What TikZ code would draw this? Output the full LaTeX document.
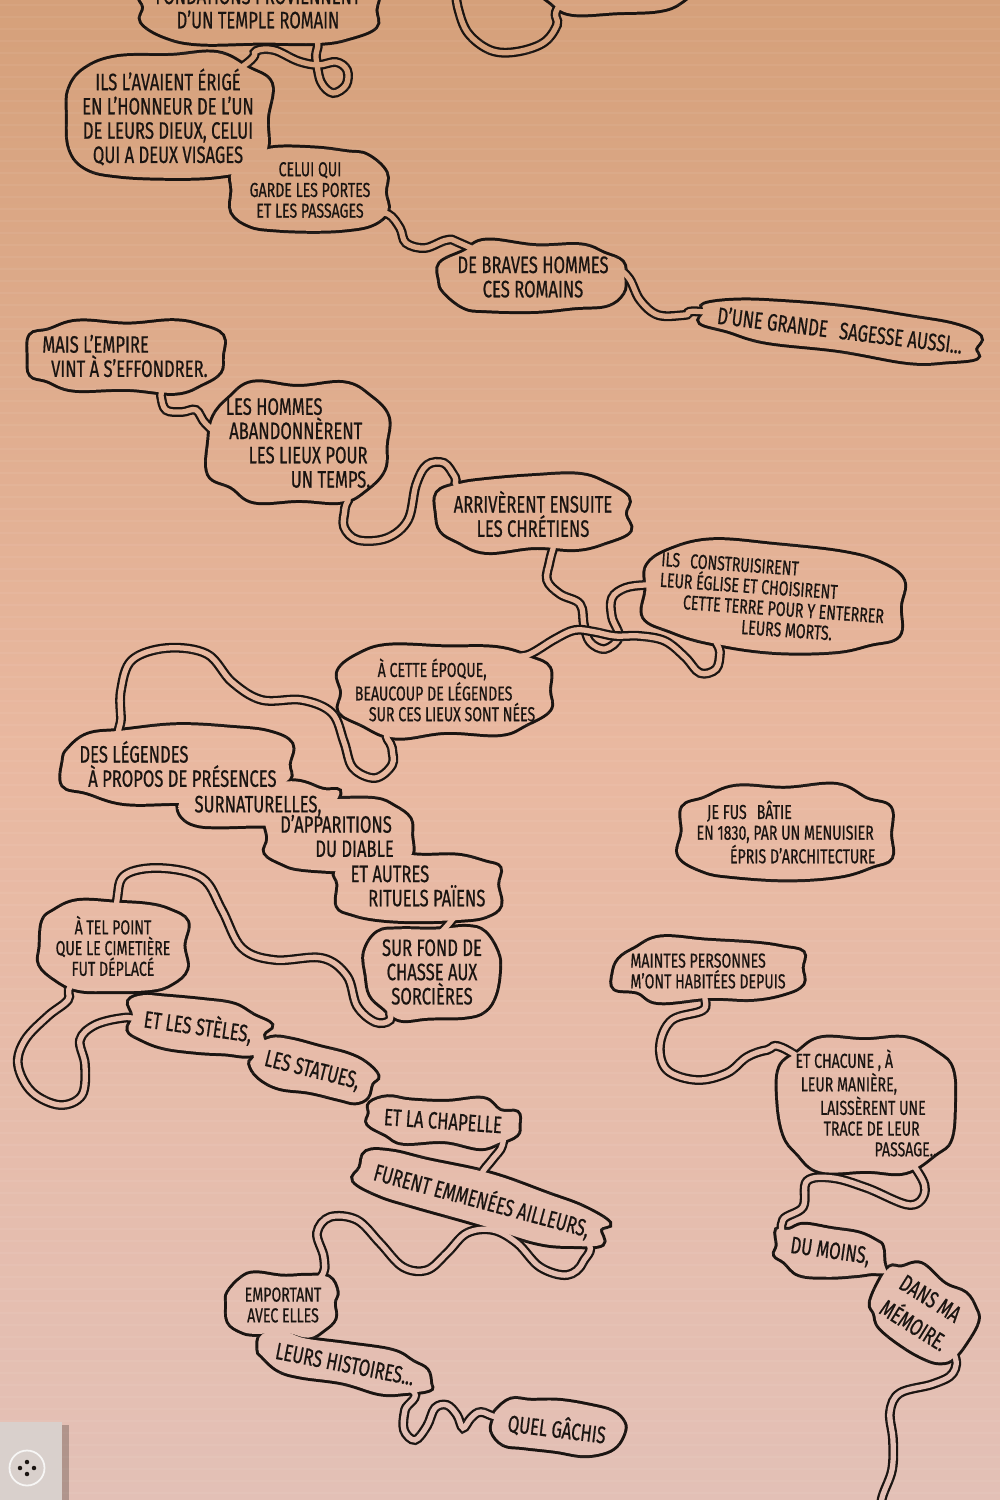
\documentclass[tikz,border=0pt]{standalone}
\usepackage{fontspec}
\setmainfont{Fira Sans}[FakeStretch=0.70, FakeBold=0.6]
\usepackage{tikz}
\usetikzlibrary{calc,backgrounds}
\definecolor{ink}   {HTML}{1A1411}
\definecolor{paperT}{HTML}{D5A07A}
\definecolor{paperM}{HTML}{E9B8A0}
\definecolor{paperB}{HTML}{E3C0B6}
\definecolor{plate} {HTML}{D9D0CC}
% closed lumpy outline round a text node (jitter from the seed)
\newcommand{\blobof}[1]{plot[smooth cycle, tension=.65] coordinates {
  ($(#1.west)+(2pt*rand,2pt*rand)$) ($(#1.west)!.5!(#1.north west)+(2pt*rand,2pt*rand)$)
  ($(#1.north west)!.2!(#1.center)+(2pt*rand,2pt*rand)$) ($(#1.north west)!.5!(#1.north)+(2pt*rand,2pt*rand)$)
  ($(#1.north)+(2pt*rand,2pt*rand)$) ($(#1.north)!.5!(#1.north east)+(2pt*rand,2pt*rand)$)
  ($(#1.north east)!.2!(#1.center)+(2pt*rand,2pt*rand)$) ($(#1.north east)!.5!(#1.east)+(2pt*rand,2pt*rand)$)
  ($(#1.east)+(2pt*rand,2pt*rand)$) ($(#1.east)!.5!(#1.south east)+(2pt*rand,2pt*rand)$)
  ($(#1.south east)!.2!(#1.center)+(2pt*rand,2pt*rand)$) ($(#1.south east)!.5!(#1.south)+(2pt*rand,2pt*rand)$)
  ($(#1.south)+(2pt*rand,2pt*rand)$) ($(#1.south)!.5!(#1.south west)+(2pt*rand,2pt*rand)$)
  ($(#1.south west)!.2!(#1.center)+(2pt*rand,2pt*rand)$) ($(#1.south west)!.5!(#1.west)+(2pt*rand,2pt*rand)$)}}
\tikzset{
  % --- text
  say/.style    = {align=center, text=ink, inner xsep=8pt, inner ysep=7pt,
                   font=\fontsize{13.5}{13.8}\selectfont},
  saysm/.style  = {say, font=\fontsize{11.5}{11.8}\selectfont},
  % --- bubbles
  paper/.style  = {top color=paperT, bottom color=paperB, middle color=paperM},
  rim/.style    = {draw=ink, line width=3.4pt},
  hole/.style   = {path picture={\shade[paper] (pg nw) rectangle (pg se);}},
  % --- ribbons
  rib/.style    = {draw=ink, line width=1.3pt, double=#1, double distance=3pt},
}
\begin{document}
\begin{tikzpicture}[x=0.2mm, y=-0.2mm]
  \coordinate (pg nw) at (0,0);
  \coordinate (pg se) at (1000,1500);
  \useasboundingbox (pg nw) rectangle (pg se);

  % texts
  \node[say] (n0) at (258,8) {FONDATIONS PROVIENNENT\\D'UN TEMPLE ROMAIN};
  \node[say, minimum width=34mm, minimum height=22mm] (ntop) at (615,-45) {};
  \node[say] (n1) at (168,117) {ILS L'AVAIENT ÉRIGÉ\\EN L'HONNEUR DE L'UN\\DE LEURS DIEUX, CELUI\\QUI A DEUX VISAGES};
  \node[saysm] (n2) at (310,190) {CELUI QUI\\GARDE LES PORTES\\ET LES PASSAGES};
  \node[say] (n3) at (533,277) {DE BRAVES HOMMES\\CES ROMAINS};
  \node[say, rotate=-7] (n4) at (840,330) {D'UNE GRANDE\enspace SAGESSE AUSSI...};
  \node[say, align=left] (n5) at (125,356) {MAIS L'EMPIRE\\\hspace*{5pt}VINT À S'EFFONDRER.};
  \node[say, align=left] (n6) at (298,443) {LES HOMMES\\\hspace*{2pt}ABANDONNÈRENT\\\hspace*{13pt}LES LIEUX POUR\\\hspace*{37pt}UN TEMPS.};
  \node[say] (n7) at (533,514) {ARRIVÈRENT ENSUITE\\LES CHRÉTIENS};
  \node[saysm, align=left, rotate=-4] (n9) at (772,598) {ILS\enspace CONSTRUISIRENT\\LEUR ÉGLISE ET CHOISIRENT\\\hspace*{14pt}CETTE TERRE POUR Y ENTERRER\\\hspace*{48pt}LEURS MORTS.};
  \node[saysm, align=left] (n8) at (445,690) {\hspace*{13pt}À CETTE ÉPOQUE,\\BEAUCOUP DE LÉGENDES\\\hspace*{8pt}SUR CES LIEUX SONT NÉES};
  \node[say, align=left] (n10a) at (178,764) {DES LÉGENDES\\\hspace*{5pt}À PROPOS DE PRÉSENCES};
  \node[say] (n10b) at (258,806) {SURNATURELLES,};
  \node[say, align=left] (n10c) at (337,836) {D'APPARITIONS\\\hspace*{20pt}DU DIABLE};
  \node[say, align=left] (n10d) at (418,886) {ET AUTRES\\\hspace*{10pt}RITUELS PAÏENS};
  \node[saysm] (n11) at (113,946) {À TEL POINT\\QUE LE CIMETIÈRE\\FUT DÉPLACÉ};
  \node[say] (n12) at (432,972) {SUR FOND DE\\CHASSE AUX\\SORCIÈRES};
  \node[say, rotate=-8] (n13a) at (198,1026) {ET LES STÈLES,};
  \node[say, rotate=-14] (n13b) at (312,1071) {LES STATUES,};
  \node[say, rotate=-4] (n13c) at (443,1121) {ET LA CHAPELLE};
  \node[say, rotate=-15] (n14) at (482,1200) {FURENT EMMENÉES AILLEURS,};
  \node[saysm] (n15) at (283,1305) {EMPORTANT\\AVEC ELLES};
  \node[say, rotate=-11] (n16) at (345,1364) {LEURS HISTOIRES...};
  \node[say, rotate=-7] (n17) at (557,1428) {QUEL GÂCHIS};
  \node[saysm, align=left] (n18) at (786,832) {\hspace*{6pt}JE FUS\enspace BÂTIE\\EN 1830, PAR UN MENUISIER\\\hspace*{19pt}ÉPRIS D'ARCHITECTURE};
  \node[saysm, align=left] (n19) at (708,971) {MAINTES PERSONNES\\M'ONT HABITÉES DEPUIS};
  \node[saysm, align=left] (n20) at (866,1103) {ET CHACUNE , À\\\hspace*{3pt}LEUR MANIÈRE,\\\hspace*{14pt}LAISSÈRENT UNE\\\hspace*{16pt}TRACE DE LEUR\\\hspace*{45pt}PASSAGE..};
  \node[say, rotate=-8] (n21a) at (830,1252) {DU MOINS,};
  \node[say, rotate=-32, font=\fontsize{13.5}{18}\selectfont] (n21b) at (922,1312) {DANS MA\\MÉMOIRE.};
  \coordinate (topend) at (455,-15);
  \coordinate (botend) at (880,1520);

  \begin{scope}[on background layer]
    \shade[paper] (pg nw) rectangle (pg se);
    % rims first, holes last: touching bubbles merge into one outline
    \foreach \bub/\sd in {n0/1,ntop/2,n1/3,n2/4,n3/5,n4/6,n5/7,n6/8,n7/9,n8/10,n9/11,
        n10a/12,n10b/13,n10c/14,n10d/15,n11/16,n12/17,n13a/18,n13b/19,n13c/20,n14/21,
        n15/22,n16/23,n17/24,n18/25,n19/26,n20/27,n21a/28,n21b/29}
      {\pgfmathsetseed{\sd}\draw[rim] \blobof{\bub};}

    \draw[rib=paperM!4!paperT] plot[smooth, tension=.6] coordinates {(topend) (458,8) (468,33) (490,50) (515,52) (543,43) (557,25) (560,5) (ntop.center)};
    \draw[rib=paperM!9!paperT] plot[smooth, tension=.6] coordinates {(n0.center) (313,36) (316,58) (321,82) (333,93) (346,85) (347,70) (336,62) (318,65) (298,61) (274,50) (256,51) (246,64) (n1.center)};
    \draw[rib=paperM!31!paperT] plot[smooth, tension=.6] coordinates {(n2.center) (368,212) (388,214) (400,228) (406,243) (425,248) (447,240) (462,244) (n3.center)};
    \draw[rib=paperM!39!paperT] plot[smooth, tension=.6] coordinates {(n3.center) (612,272) (628,277) (640,300) (658,315) (685,315) (705,312) (n4.center)};
    \draw[rib=paperM!53!paperT] plot[smooth, tension=.6] coordinates {(n5.center) (160,380) (161,396) (166,410) (182,412) (196,410) (206,424) (224,433) (n6.center)};
    \draw[rib=paperM!67!paperT] plot[smooth, tension=.6] coordinates {(n6.center) (345,490) (345,508) (344,527) (358,540) (387,538) (408,520) (416,485) (427,465) (444,463) (455,477) (463,490) (n7.center)};
    \draw[rib=paperM!80!paperT] plot[smooth, tension=.6] coordinates {(n7.center) (553,538) (550,560) (547,580) (560,594) (580,604) (584,625) (590,642) (605,649) (619,637) (612,617) (612,598) (625,588) (645,585) (662,586) (n9.center)};
    \draw[rib=paperM!87!paperT] plot[smooth, tension=.6] coordinates {(n9.center) (719,632) (720,652) (716,669) (700,673) (685,657) (665,641) (640,636) (615,636) (595,632) (575,630) (555,639) (530,654) (508,660) (n8.center)};
    \draw[rib=paperM!96!paperT] plot[smooth, tension=.6] coordinates {(n8.center) (390,728) (392,748) (392,765) (375,778) (353,768) (344,742) (332,713) (302,700) (262,700) (232,682) (207,654) (167,648) (132,660) (121,690) (121,718) (123,742) (n10a.center)};
    \draw[rib=paperB!23!paperM] plot[smooth, tension=.6] coordinates {(n10d.center) (461,906) (452,920) (441,933) (433,945) (n12.center)};
    \draw[rib=paperB!27!paperM] plot[smooth, tension=.6] coordinates {(n12.center) (393,1004) (390,1020) (375,1022) (357,1006) (347,976) (322,958) (275,960) (242,948) (222,910) (202,878) (160,868) (125,875) (117,900) (n11.center)};
    \draw[rib=paperB!40!paperM] plot[smooth, tension=.6] coordinates {(n11.center) (72,984) (68,1000) (48,1016) (25,1040) (18,1065) (32,1092) (60,1105) (82,1095) (85,1065) (80,1040) (95,1025) (122,1018) (140,1019) (n13a.center)};
    \draw[rib=paperB!54!paperM] plot[smooth, tension=.6] coordinates {(n13c.center) (497,1133) (502,1146) (492,1160) (481,1176) (n14.center)};
    \draw[rib=paperB!66!paperM] plot[smooth, tension=.6] coordinates {(n14.center) (582,1238) (583,1262) (567,1275) (540,1267) (517,1243) (493,1230) (467,1233) (447,1253) (427,1270) (403,1267) (380,1243) (357,1220) (330,1217) (317,1233) (324,1258) (320,1278) (n15.center)};
    \draw[rib=paperB!89!paperM] plot[smooth, tension=.6] coordinates {(n16.center) (412,1390) (405,1410) (404,1430) (415,1440) (427,1426) (435,1408) (447,1405) (457,1415) (463,1428) (471,1418) (481,1412) (500,1418) (n17.center)};
    \draw[rib=paperB!39!paperM] plot[smooth, tension=.6] coordinates {(n19.center) (705,995) (703,1010) (672,1020) (660,1045) (667,1070) (697,1080) (727,1073) (747,1057) (767,1050) (787,1050) (n20.center)};
    \draw[rib=paperB!59!paperM] plot[smooth, tension=.6] coordinates {(n20.center) (912,1163) (925,1190) (910,1205) (867,1188) (833,1178) (807,1181) (803,1207) (783,1220) (788,1240) (n21a.center)};
    \draw[rib=paperB!91!paperM] plot[smooth, tension=.6] coordinates {(n21b.center) (953,1352) (953,1373) (933,1384) (900,1393) (890,1412) (893,1440) (892,1470) (882,1498) (botend)};

    \foreach \bub/\sd in {n0/1,ntop/2,n1/3,n2/4,n3/5,n4/6,n5/7,n6/8,n7/9,n8/10,n9/11,
        n10a/12,n10b/13,n10c/14,n10d/15,n11/16,n12/17,n13a/18,n13b/19,n13c/20,n14/21,
        n15/22,n16/23,n17/24,n18/25,n19/26,n20/27,n21a/28,n21b/29}
      {\pgfmathsetseed{\sd}\path[hole] \blobof{\bub};}

    % faint stripes of the paper
    \foreach \y in {5,17,...,1500}
      \draw[white, opacity=.05, line width=1.6pt] (0,\y) -- (1000,\y);

    % wall plate, bottom left
    \fill[plate] (0,1422) rectangle (62,1500);
    \fill[ink, opacity=.25] (62,1425) rectangle (69,1500);
    \draw[white!80!plate, line width=1pt] (27,1468) circle[radius=3.5mm];
    \foreach \dx/\dy in {-7/0,7/0,0/-6,0/6}
      \fill[ink] (27+\dx,1468+\dy) circle[radius=.45mm];
  \end{scope}
\end{tikzpicture}
\end{document}
